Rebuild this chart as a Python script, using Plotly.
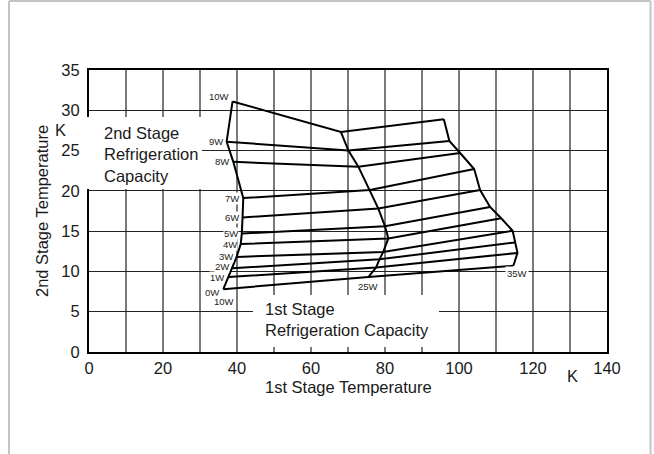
import plotly.graph_objects as go

# ---- data ----
stage2_loads = ["0W", "1W", "2W", "3W", "4W", "5W", "6W", "7W", "8W", "9W", "10W"]
stage1_loads = ["10W", "25W", "35W"]

# 1st stage load 10W
t1_at_10W = [36.3, 37.7, 38.8, 39.9, 41.0, 41.3, 41.5, 41.7, 39.0, 37.2, 38.8]
t2_at_10W = [7.8, 9.3, 10.4, 11.8, 13.4, 14.7, 16.7, 19.1, 23.6, 26.1, 31.1]
# 1st stage load 25W
t1_at_25W = [75.5, 77.6, 78.5, 79.5, 80.9, 80.0, 78.2, 75.9, 72.8, 70.1, 68.1]
t2_at_25W = [9.3, 10.5, 11.5, 12.4, 14.1, 15.6, 17.8, 20.1, 23.0, 25.0, 27.3]
# 1st stage load 35W
t1_at_35W = [114.7, 115.8, 115.2, 114.5, 111.4, 108.4, 105.7, 104.1, 100.3, 97.4, 95.9]
t2_at_35W = [10.7, 12.3, 13.6, 15.05, 16.6, 18.0, 20.1, 22.7, 24.7, 26.2, 28.9]

x_ticks = [0, 20, 40, 60, 80, 100, 120, 140]
y_ticks = [0, 5, 10, 15, 20, 25, 30, 35]

FONT = "Liberation Sans, Arial, Helvetica, sans-serif"
LINE = dict(color="black", width=2)

fig = go.Figure()

# constant 2nd-stage-load lines
for k, name in enumerate(stage2_loads):
    fig.add_trace(go.Scatter(
        x=[t1_at_10W[k], t1_at_25W[k], t1_at_35W[k]],
        y=[t2_at_10W[k], t2_at_25W[k], t2_at_35W[k]],
        mode="lines", line=LINE, name=name, showlegend=False, hoverinfo="skip"))

# constant 1st-stage-load lines
for xs, ys, name in [(t1_at_10W, t2_at_10W, "10W"),
                     (t1_at_25W, t2_at_25W, "25W"),
                     (t1_at_35W, t2_at_35W, "35W")]:
    fig.add_trace(go.Scatter(x=xs, y=ys, mode="lines", line=LINE, name=name,
                             showlegend=False, hoverinfo="skip"))

annotations = []
small = dict(family=FONT, size=9.5, color="#222")

# 2nd stage load labels at left end
label_yshift = {"10W": 5, "2W": 1.5, "1W": -0.5, "0W": -3}
for k, name in enumerate(stage2_loads):
    annotations.append(dict(x=t1_at_10W[k], y=t2_at_10W[k], text=name, showarrow=False,
                            xanchor="right", yanchor="middle", xshift=-3,
                            yshift=label_yshift.get(name, 0),
                            font=small, bgcolor="white", borderpad=0))

# 1st stage load labels below the bottom line
annotations.append(dict(x=t1_at_10W[0], y=t2_at_10W[0], text=stage1_loads[0], showarrow=False,
                        xanchor="center", yanchor="middle", xshift=1, yshift=-12,
                        font=small, bgcolor="white", borderpad=0))
annotations.append(dict(x=t1_at_25W[0], y=t2_at_25W[0], text=stage1_loads[1], showarrow=False,
                        xanchor="center", yanchor="middle", xshift=0, yshift=-9.5,
                        font=small, bgcolor="white", borderpad=0))
annotations.append(dict(x=t1_at_35W[0], y=t2_at_35W[0], text=stage1_loads[2], showarrow=False,
                        xanchor="center", yanchor="middle", xshift=4, yshift=-8,
                        font=small, bgcolor="white", borderpad=1))

big = dict(family=FONT, size=16.5, color="#1a1a1a")
annotations += [
    dict(xref="paper", yref="paper", x=0.025, y=0.6986, text="2nd Stage<br>Refrigeration<br>Capacity",
         showarrow=False, xanchor="left", yanchor="middle", align="left", font=big),
    dict(xref="paper", yref="paper", x=0.336, y=0.1135, text="1st Stage<br>Refrigeration Capacity",
         showarrow=False, xanchor="left", yanchor="middle", align="left", font=big),
    dict(xref="paper", yref="paper", x=0.5, y=-0.124, text="1st Stage Temperature",
         showarrow=False, xanchor="center", yanchor="middle", font=big),
    dict(xref="paper", yref="paper", x=-0.0907, y=0.5, text="2nd Stage Temperature",
         showarrow=False, xanchor="center", yanchor="middle", textangle=-90, font=big),
    dict(xref="paper", yref="paper", x=(572.5 - 89) / 518, y=(352 - 376) / 282, text="K",
         showarrow=False, xanchor="center", yanchor="middle", font=big),
    dict(xref="paper", yref="paper", x=(60 - 89) / 518, y=(352 - 129.5) / 282, text="K",
         showarrow=False, xanchor="center", yanchor="middle", font=big),
]

shapes = [
    # white boxes behind the two stage labels (hide grid)
    dict(type="rect", xref="paper", yref="paper", layer="above",
         x0=(86 - 89) / 518, x1=(202 - 89) / 518, y0=(352 - 189) / 282, y1=(352 - 117) / 282,
         fillcolor="white", line=dict(width=0)),
    dict(type="rect", xref="paper", yref="paper", layer="above",
         x0=(253 - 89) / 518, x1=(439 - 89) / 518, y0=(352 - 347) / 282, y1=(352 - 295) / 282,
         fillcolor="white", line=dict(width=0)),
    # outer light frame
    dict(type="line", xref="paper", yref="paper", x0=(9 - 89) / 518, x1=(9 - 89) / 518,
         y0=(352 - 454) / 282, y1=(352 - 1) / 282, line=dict(color="#c4c4c4", width=2)),
    dict(type="line", xref="paper", yref="paper", x0=(650.5 - 89) / 518, x1=(650.5 - 89) / 518,
         y0=(352 - 454) / 282, y1=(352 - 1) / 282, line=dict(color="#c4c4c4", width=2)),
    dict(type="line", xref="paper", yref="paper", x0=(9 - 89) / 518, x1=(650.5 - 89) / 518,
         y0=(352 - 1) / 282, y1=(352 - 1) / 282, line=dict(color="#c4c4c4", width=2)),
]

fig.update_layout(
    width=654, height=454,
    margin=dict(l=89, r=47, t=70, b=102),
    paper_bgcolor="white", plot_bgcolor="white",
    showlegend=False,
    annotations=annotations,
    shapes=shapes,
    font=dict(family=FONT, size=16.5, color="#1a1a1a"),
)
fig.update_xaxes(range=[0, 140], tickvals=x_ticks, ticktext=[str(v) for v in x_ticks],
                 showgrid=True, gridcolor="#7a7a7a", gridwidth=2,
                 minor=dict(dtick=10, tick0=0, showgrid=True, gridcolor="#7a7a7a", gridwidth=2),
                 showline=True, linecolor="black", linewidth=2, mirror=True,
                 zeroline=False, ticks="", ticklabelstandoff=0,
                 tickfont=dict(family=FONT, size=16.5, color="#1a1a1a"))
fig.update_yaxes(range=[0, 35], tickvals=y_ticks, ticktext=[str(v) for v in y_ticks],
                 showgrid=True, gridcolor="#222222", gridwidth=1.2,
                 showline=True, linecolor="black", linewidth=2, mirror=True,
                 zeroline=False, ticks="", ticklabelstandoff=4,
                 tickfont=dict(family=FONT, size=16.5, color="#1a1a1a"))

fig.write_html("out.html")
